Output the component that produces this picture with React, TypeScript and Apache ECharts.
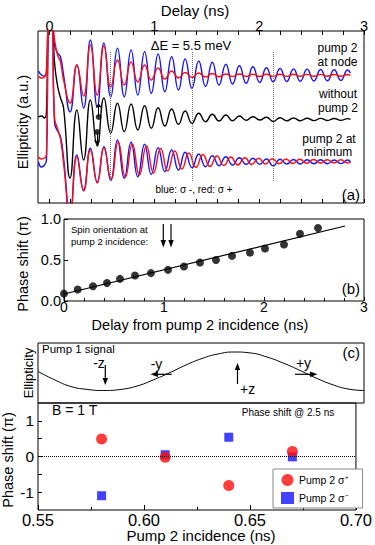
import { useEffect, useRef } from 'react';
import * as echarts from 'echarts';

const FONT = '"Liberation Sans", Arial, Helvetica, sans-serif';

// ---------- Panel (a): ellipticity traces (a.u.) ----------
// times (ns) before / around the pump-1 spike
const preT = [-0.105, -0.077, -0.048, -0.029, -0.010, 0.019, 0.048, 0.077, 0.105, 0.134];
const preBlueNode = [132, 128, 127, 133, 183, 188, 158, 150, 146, 128];
const preRedNode = [127, 125, 126, 131, 183, 188, 163, 148, 141, 123];
const preBlack = [86, 87, 85, 92, 183, 190, 140, 117, 105, 95];
const preBlueMin = [41, 36, 38, 43, 183, 188, 80, 72, 66, 45];
const preRedMin = [46, 44, 45, 48, 183, 188, 85, 74, 64, 40];

// times (ns) of successive extrema of the precession signal
const oscT = [0.196, 0.261, 0.325, 0.390, 0.455, 0.519, 0.584, 0.648, 0.713, 0.778, 0.842, 0.907, 0.971, 1.036,
  1.100, 1.165, 1.230, 1.294, 1.359, 1.423, 1.488, 1.553, 1.617, 1.682, 1.746, 1.811, 1.876, 1.940, 2.005, 2.069,
  2.134, 2.199, 2.263, 2.328, 2.392, 2.457, 2.522, 2.586, 2.651, 2.715, 2.780, 2.844, 2.871];
const blueNodeV = [91, 138, 95, 163, 96, 160, 106, 154.7, 106.3, 153, 108, 151.3, 109.7, 148.7, 111.3, 146.3, 113, 144,
  114.7, 142, 116.5, 140.7, 118, 138.7, 119, 137.3, 119.7, 136.3, 120.5, 135.3, 121.3, 134.5, 121.5, 134, 121.7, 133.7,
  122, 133.5, 122.2, 133.3, 122.5, 133, 130];
const redNodeV = [100, 138, 107, 158, 108, 157, 116, 143, 118, 141, 121, 138, 123, 135, 124, 132, 125, 130.5, 125.5, 130,
  126, 129.5, 126.2, 129, 126.4, 129, 126.5, 128.8, 126.5, 128.8, 126.6, 128.7, 126.6, 128.7, 126.7, 128.6, 126.7, 128.6,
  126.8, 128.5, 126.8, 128.5, 127.5];
const blackV = [25, 93, 43, 103, 57, 105, 70, 99.7, 71.3, 99, 73, 97.3, 74.7, 95.3, 77, 94, 78.7, 92, 79.7, 89.7, 81.3,
  88.7, 82, 88, 82.3, 87, 82.7, 86.3, 83, 85.7, 81.5, 85.3, 82.2, 85, 82.3, 84.8, 82.4, 84.6, 82.5, 84.5, 82.6, 84.4, 83.5];
const blueMinV = [-12, 48, 13, 54.7, 21, 56.3, 22.5, 63, 24.7, 60.7, 26.3, 58.7, 28.7, 55.3, 31.3, 53, 33, 50.7, 35.3,
  49, 36.3, 47.3, 37.3, 46.3, 38, 45.3, 38.5, 44.7, 38.7, 44, 37, 43.7, 39, 43.5, 39, 43.3, 39.2, 43.2, 39.3, 43, 39.4, 43, 41];
const redMinT = [0.196, 0.261, 0.325, 0.390, 0.455, 0.519, 0.587, 0.655, 0.723, 0.790, 0.857, 0.925, 0.992, 1.060,
  1.127, 1.195, 1.263, 1.329, 1.397, 1.463, 1.530, 1.597, 1.663, 1.730, 1.796, 1.863, 1.929, 1.994, 2.060, 2.125,
  2.191, 2.256, 2.321, 2.387, 2.452, 2.518, 2.584, 2.648, 2.714, 2.778, 2.844, 2.871];
const redMinV = [-15, 46, 12, 53, 20, 55, 24, 61, 26, 59, 28, 57, 30, 54.5, 32, 52, 34, 50, 35.5, 48.5, 36.5, 47, 37.5,
  46, 38, 45.3, 38.5, 44.7, 39, 44.3, 39.3, 44, 39.5, 43.7, 39.7, 43.5, 39.8, 43.3, 40, 43.2, 40, 41];

// dotted guides (ns) and their extent (a.u.)
const markerTimes = [0.584, 1.359, 2.134];
const markerRange = [22, 151];
// spin dots in (a)
const spinDotT = [0.469, 0.454];
const spinDotV = [86, 71];
const spinStemEnd = [100, 58];

const topTickVals = [0, 0.2, 0.4, 0.6, 0.8, 1, 1.2, 1.4, 1.6, 1.8, 2, 2.2, 2.4, 2.6, 2.8, 3];
const topLabelVals = [0, 1, 2, 3];

// ---------- Panel (b): phase shift ----------
const phaseT = [0.0, 0.137, 0.29, 0.43, 0.56, 0.71, 0.87, 1.04, 1.2, 1.36, 1.52, 1.68, 1.86, 2.01, 2.2, 2.36, 2.54];
const phaseV = [0.09, 0.14, 0.18, 0.22, 0.27, 0.31, 0.34, 0.38, 0.42, 0.47, 0.5, 0.55, 0.59, 0.64, 0.69, 0.82, 0.89];
const fitT = [0, 2.81];
const fitV = [0.085, 0.915];

// ---------- Panel (c): pump 1 signal ----------
const cX = [0, 5.2, 10.1, 15.3, 20.2, 25.2, 30.4, 35.3, 40.2, 45.4, 50.3, 55.2, 60.1, 65.3, 70.2, 75.2, 80.4, 85.3, 90.2, 95.1, 100];
const cV = [31.5, 23, 16.5, 13.5, 12.5, 13.5, 17, 23, 30, 38, 44.5, 49, 51, 50, 46, 40, 32.5, 25, 18.5, 14, 12.5];

// ---------- Panel (d): phase shift @ 2.5 ns ----------
const incidence = [0.58, 0.61, 0.64, 0.67];
const sigmaPlus = [0.49, -0.02, -0.81, 0.14];
const sigmaMinus = [-1.1, 0.05, 0.54, -0.01];
const dYTicks = [-1, -0.5, 0, 0.5, 1];
const dYLabels = [-1, 0, 1];

const pairs = (t: number[], v: number[]) => t.map((x, i) => [x, v[i]]);

const BLUE = '#1414ff';
const RED = '#ff0d0d';

function txt(text: string, x: number, y: number, size: number, align = 'left', extra: any = {}) {
  return {
    type: 'text', x, y, silent: true, z: 100,
    style: {
      text, font: `${size}px ${FONT}`, fill: '#000',
      textAlign: align, align, textVerticalAlign: 'middle', verticalAlign: 'middle',
    },
    ...extra,
  };
}
function vtxt(text: string, x: number, y: number, size: number) {
  return txt(text, x, y, size, 'center', { rotation: Math.PI / 2 });
}
function seg(x1: number, y1: number, x2: number, y2: number, w = 1.2) {
  return { type: 'line', silent: true, z: 100, shape: { x1, y1, x2, y2 }, style: { stroke: '#000', lineWidth: w } };
}
function head(points: number[][]) {
  return { type: 'polygon', silent: true, z: 100, shape: { points }, style: { fill: '#000' } };
}

const axisFont = { color: '#000', fontFamily: FONT, fontSize: 14.5 };

function buildOption(): any {
  const curve = (name: string, data: number[][], color: string, z: number) => ({
    name, type: 'line', xAxisIndex: 0, yAxisIndex: 0, data, smooth: 0.5, symbol: 'none', silent: true, z,
    lineStyle: { color, width: 1.4 },
  });

  return {
    animation: false,
    backgroundColor: '#fff',
    grid: [
      { left: 38, top: 31, width: 326, height: 172, show: true, borderColor: '#000', borderWidth: 1 },
      { left: 64, top: 219, width: 300, height: 82, show: true, borderColor: '#000', borderWidth: 1 },
      { left: 38, top: 343, width: 326, height: 60, show: true, borderColor: '#000', borderWidth: 1 },
      { left: 38, top: 403, width: 326, height: 107, show: true, borderColor: '#000', borderWidth: 1 },
    ],
    xAxis: [
      {
        gridIndex: 0, type: 'value', min: -0.11, max: 3, position: 'top',
        axisLine: { show: false, onZero: false },
        axisTick: { inside: true, length: 4, customValues: topTickVals, lineStyle: { color: '#000' } },
        axisLabel: { customValues: topLabelVals, margin: 0, lineHeight: 11, ...axisFont },
        splitLine: { show: false },
      },
      {
        gridIndex: 0, type: 'value', min: -0.11, max: 3, position: 'bottom',
        axisLine: { show: false, onZero: false },
        axisTick: { inside: true, length: 4, customValues: topTickVals, lineStyle: { color: '#000' } },
        axisLabel: { show: false },
        splitLine: { show: false },
      },
      {
        gridIndex: 1, type: 'value', min: 0, max: 3, interval: 1, position: 'bottom',
        axisLine: { show: false, onZero: false },
        axisTick: { inside: true, length: 4, lineStyle: { color: '#000' } },
        minorTick: { show: true, splitNumber: 5, length: 3, lineStyle: { color: '#000' } },
        axisLabel: { margin: 0, lineHeight: 11, ...axisFont, fontSize: 14 },
        splitLine: { show: false },
      },
      { gridIndex: 2, type: 'value', min: 0, max: 100, show: false },
      {
        gridIndex: 3, type: 'value', min: 0.55, max: 0.7, interval: 0.05, position: 'bottom',
        axisLine: { show: false, onZero: false },
        axisTick: { inside: true, length: 5, lineStyle: { color: '#000' } },
        minorTick: { show: true, splitNumber: 2, length: 3, lineStyle: { color: '#000' } },
        axisLabel: { margin: 1, formatter: (v: number) => v.toFixed(2), ...axisFont, fontSize: 16.5 },
        splitLine: { show: false },
      },
    ],
    yAxis: [
      { gridIndex: 0, type: 'value', min: 0, max: 172, show: false },
      {
        gridIndex: 1, type: 'value', min: 0, max: 1, interval: 0.5,
        axisLine: { show: false, onZero: false },
        axisTick: { inside: true, length: 4, lineStyle: { color: '#000' } },
        axisLabel: { margin: 3, formatter: (v: number) => v.toFixed(1), ...axisFont },
        splitLine: { show: false },
      },
      { gridIndex: 2, type: 'value', min: 0, max: 60, show: false },
      {
        gridIndex: 3, type: 'value', min: -1.5, max: 1.5,
        axisLine: { show: false, onZero: false },
        axisTick: { inside: true, length: 4, customValues: dYTicks, lineStyle: { color: '#000' } },
        axisLabel: { margin: 4, customValues: dYLabels, formatter: (v: number) => String(v), ...axisFont, fontSize: 15.5 },
        splitLine: { show: false },
      },
    ],
    legend: {
      data: [
        { name: 'Pump 2 σ⁺', icon: 'circle' },
        { name: 'Pump 2 σ⁻', icon: 'rect' },
      ],
      orient: 'vertical', left: 273, top: 469,
      itemWidth: 13, itemHeight: 12, itemGap: 6,
      padding: [5, 14, 4, 8],
      borderColor: '#888', borderWidth: 1, backgroundColor: '#fff',
      textStyle: { fontSize: 10.5, fontFamily: FONT, color: '#000' },
      selectedMode: false,
    },
    series: [
      curve('blueNode', pairs([...preT, ...oscT], [...preBlueNode, ...blueNodeV]), BLUE, 2),
      curve('redNode', pairs([...preT, ...oscT], [...preRedNode, ...redNodeV]), RED, 3),
      {
        ...curve('black', pairs([...preT, ...oscT], [...preBlack, ...blackV]), '#000', 2),
        markLine: {
          silent: true, symbol: ['none', 'none'], label: { show: false }, z: 6,
          lineStyle: { type: 'dotted', color: '#777', width: 1 },
          data: markerTimes.map((t) => [{ coord: [t, markerRange[0]] }, { coord: [t, markerRange[1]] }]),
        },
      },
      curve('blueMin', pairs([...preT, ...oscT], [...preBlueMin, ...blueMinV]), BLUE, 2),
      curve('redMin', pairs([...preT, ...redMinT], [...preRedMin, ...redMinV]), RED, 3),
      {
        type: 'scatter', xAxisIndex: 0, yAxisIndex: 0, silent: true, z: 5,
        data: pairs(spinDotT, spinDotV), symbolSize: 6, itemStyle: { color: '#000' },
        markLine: {
          silent: true, symbol: ['none', 'arrow'], symbolSize: 5, label: { show: false },
          lineStyle: { type: 'solid', color: '#000', width: 1 },
          data: spinDotT.map((t, i) => [{ coord: [t, spinDotV[i]] }, { coord: [t, spinStemEnd[i]] }]),
        },
      },
      // (b)
      {
        type: 'line', xAxisIndex: 2, yAxisIndex: 1, data: pairs(fitT, fitV), symbol: 'none', silent: true,
        lineStyle: { color: '#000', width: 1.2 },
      },
      {
        type: 'scatter', xAxisIndex: 2, yAxisIndex: 1, data: pairs(phaseT, phaseV), symbolSize: 8, silent: true,
        itemStyle: { color: '#000' }, clip: false,
      },
      // (c)
      {
        type: 'line', xAxisIndex: 3, yAxisIndex: 2, data: pairs(cX, cV), symbol: 'none', smooth: 0.5, silent: true,
        lineStyle: { color: '#000', width: 1 },
      },
      // (d)
      {
        name: 'Pump 2 σ⁺', type: 'scatter', xAxisIndex: 4, yAxisIndex: 3, data: pairs(incidence, sigmaPlus),
        symbol: 'circle', symbolSize: 11, itemStyle: { color: RED }, silent: true, z: 4,
        markLine: {
          silent: true, symbol: ['none', 'none'], label: { show: false },
          lineStyle: { type: 'dotted', color: '#000', width: 1 },
          data: [{ yAxis: 0 }],
        },
      },
      {
        name: 'Pump 2 σ⁻', type: 'scatter', xAxisIndex: 4, yAxisIndex: 3, data: pairs(incidence, sigmaMinus),
        symbol: 'rect', symbolSize: 9, itemStyle: { color: BLUE }, silent: true, z: 3,
      },
    ],
    graphic: [
      // panel (a)
      txt('Delay (ns)', 195, 10, 15, 'center'),
      txt('ΔE = 5.5 meV', 191, 45, 13, 'center'),
      txt('pump 2', 337.5, 48, 12, 'center'),
      txt('at node', 337.5, 62, 12, 'center'),
      txt('without', 338, 94, 12, 'center'),
      txt('pump 2', 338, 108, 12, 'center'),
      txt('pump 2 at', 329, 139, 12, 'center'),
      txt('minimum', 328, 152, 12, 'center'),
      txt('blue: σ -, red: σ +', 194, 189, 10, 'center'),
      txt('(a)', 360, 194, 15, 'right'),
      vtxt('Ellipticity (a.u.)', 23, 122, 14.5),
      // panel (b)
      txt('Spin orientation at', 71, 229, 9.5),
      txt('pump 2 incidence:', 71, 241.5, 9.5),
      seg(163.3, 224, 163.3, 241), head([[160.6, 240], [166, 240], [163.3, 247.5]]),
      seg(171, 224, 171, 241), head([[168.3, 240], [173.7, 240], [171, 247.5]]),
      txt('(b)', 360, 288.5, 15, 'right'),
      txt('Delay from pump 2 incidence (ns)', 200, 324.5, 14.5, 'center'),
      vtxt('Phase shift (π)', 23, 264, 14.5),
      // panel (c)
      txt('Pump 1 signal', 42, 349, 11.5),
      txt('(c)', 360, 352, 15, 'right'),
      vtxt('Ellipticity', 28, 373, 13),
      txt('-z', 99, 363, 14, 'center'),
      seg(105.3, 365, 105.3, 379), head([[102.6, 378], [108, 378], [105.3, 385]]),
      txt('-y', 156.5, 364, 14, 'center'),
      seg(171.7, 374.3, 157, 374.3), head([[158, 371.6], [158, 377], [150.5, 374.3]]),
      txt('+z', 240, 389, 14, 'left'),
      seg(237.5, 384, 237.5, 369), head([[234.8, 370], [240.2, 370], [237.5, 363]]),
      txt('+y', 303.5, 363, 14, 'center'),
      seg(295, 374.3, 311, 374.3), head([[310, 371.6], [310, 377], [317.5, 374.3]]),
      // panel (d)
      txt('B = 1 T', 52, 410, 14),
      txt('Phase shift @ 2.5 ns', 288, 412.5, 10, 'center'),
      txt('Pump 2 incidence (ns)', 201, 535.5, 15, 'center'),
      vtxt('Phase shift (π)', 8, 460, 14.5),
    ],
  };
}

export default function App() {
  const ref = useRef<HTMLDivElement>(null);
  useEffect(() => {
    const chart = echarts.init(ref.current!, null, { renderer: 'svg' });
    chart.setOption(buildOption());
    return () => chart.dispose();
  }, []);
  return (
    <div
      ref={ref}
      style={{ position: 'absolute', left: 0, top: 0, width: 375, height: 545, background: '#fff' }}
    />
  );
}
